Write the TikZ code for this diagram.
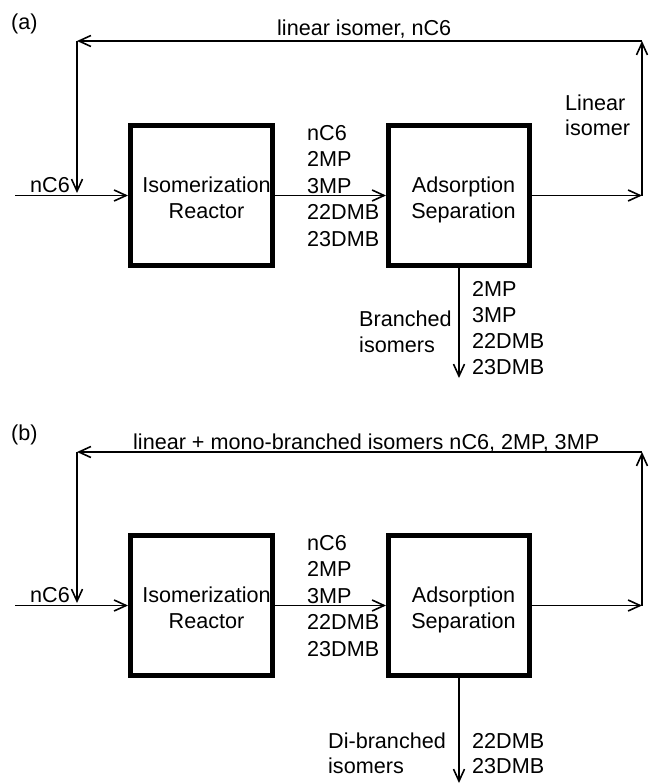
\documentclass[tikz,border=0pt]{standalone}
\usepackage{fontspec}
\setmainfont{Liberation Sans}
\usetikzlibrary{arrows.meta}
\begin{document}
\begin{tikzpicture}[x=1pt,y=-1pt,
  lbl/.style={anchor=base west,inner sep=0pt,font=\fontsize{21.6}{26}\selectfont},
  clbl/.style={anchor=base,inner sep=0pt,font=\fontsize{21.6}{26}\selectfont},
  unit/.style={draw,line width=5pt,minimum width=142pt,minimum height=140pt,inner sep=0pt},
  flow/.style={line width=1.6pt,-{Straight Barb[length=12pt,width=11pt,line width=1.6pt]}},
  pipe/.style={line width=1.6pt}]
\fill[white] (0,0) rectangle (649,784);
\useasboundingbox (0,0) rectangle (649,784);

% ================= panel (a) =================
\node[lbl] (tagA) at (11,30) {(a)};
\node[unit] (reacA) at (201.5,195.5) {};
\node[unit,minimum width=141pt] (sepA) at (459,195.5) {};

\coordinate (aIn) at (15,195.5);
\coordinate (aTL) at (77,41);
\coordinate (aTR) at (642,41);
\coordinate (aR) at (642,195.5);
\coordinate (aDn) at (77,193);
\coordinate (aOut) at (459,378);

\draw[flow] (aIn) -- (reacA.west);
\draw[flow] (reacA.east) -- (sepA.west);
\draw[flow] (sepA.east) -- (aR);
\draw[flow] (aR) -- (aTR);
\draw[flow] (aTR) -- (aTL);
\draw[flow] (aTL) -- (aDn);
\draw[flow] (sepA.south) -- (aOut);

\node[lbl] (recA) at (277,36) {linear isomer, nC6};
\node[lbl] (feedA) at (30,192) {nC6};
\node[clbl] (reacA1) at (206.5,192) {Isomerization};
\node[clbl] (reacA2) at (206.5,218) {Reactor};
\node[clbl] (sepA1) at (463.5,192) {Adsorption};
\node[clbl] (sepA2) at (463.5,218) {Separation};
\node[lbl] (midA1) at (307,140) {nC6};
\node[lbl] (midA2) at (307,166.5) {2MP};
\node[lbl] (midA3) at (307,193) {3MP};
\node[lbl] (midA4) at (307,219.5) {22DMB};
\node[lbl] (midA5) at (307,246) {23DMB};
\node[lbl] (linA1) at (565,110) {Linear};
\node[lbl] (linA2) at (565,135) {isomer};
\node[lbl] (botA1) at (472,296) {2MP};
\node[lbl] (botA2) at (472,322) {3MP};
\node[lbl] (botA3) at (472,348) {22DMB};
\node[lbl] (botA4) at (472,374) {23DMB};
\node[lbl] (brA1) at (359,326) {Branched};
\node[lbl] (brA2) at (359,352) {isomers};

% ================= panel (b) =================
\node[lbl] (tagB) at (11,440) {(b)};
\node[unit] (reacB) at (201.5,605.5) {};
\node[unit,minimum width=141pt] (sepB) at (459,605.5) {};

\coordinate (bIn) at (15,605.5);
\coordinate (bTL) at (77,452);
\coordinate (bTR) at (642,452);
\coordinate (bR) at (642,605.5);
\coordinate (bDn) at (77,603);
\coordinate (bOut) at (459,783);

\draw[flow] (bIn) -- (reacB.west);
\draw[flow] (reacB.east) -- (sepB.west);
\draw[flow] (sepB.east) -- (bR);
\draw[flow] (bR) -- (bTR);
\draw[flow] (bTR) -- (bTL);
\draw[flow] (bTL) -- (bDn);
\draw[flow] (sepB.south) -- (bOut);

\node[lbl] (recB) at (133,449) {linear + mono-branched isomers nC6, 2MP, 3MP};
\node[lbl] (feedB) at (30,602) {nC6};
\node[clbl] (reacB1) at (206.5,602) {Isomerization};
\node[clbl] (reacB2) at (206.5,628) {Reactor};
\node[clbl] (sepB1) at (463.5,602) {Adsorption};
\node[clbl] (sepB2) at (463.5,628) {Separation};
\node[lbl] (midB1) at (307,550) {nC6};
\node[lbl] (midB2) at (307,576.5) {2MP};
\node[lbl] (midB3) at (307,603) {3MP};
\node[lbl] (midB4) at (307,629.5) {22DMB};
\node[lbl] (midB5) at (307,656) {23DMB};
\node[lbl] (botB1) at (472,748) {22DMB};
\node[lbl] (botB2) at (472,773) {23DMB};
\node[lbl] (brB1) at (328,748) {Di-branched};
\node[lbl] (brB2) at (328,773) {isomers};
\end{tikzpicture}
\end{document}
